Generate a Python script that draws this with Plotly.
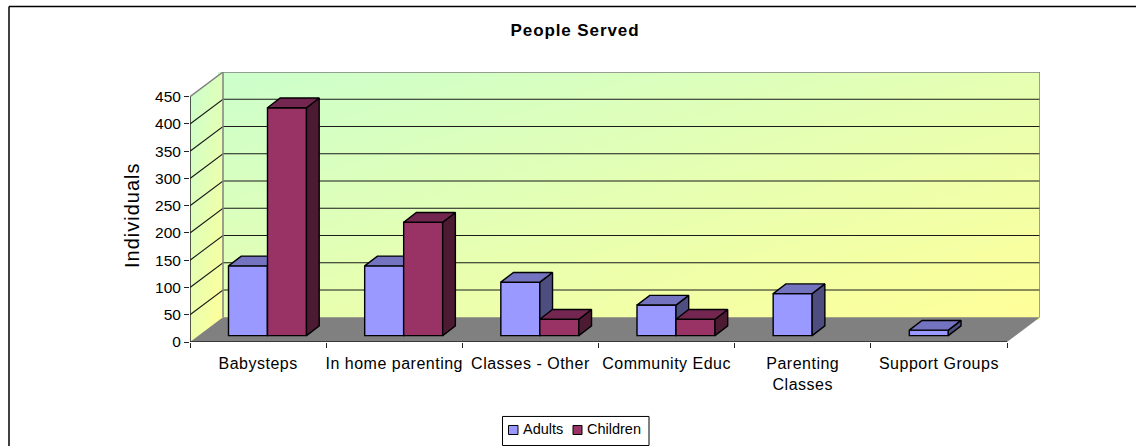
import numpy as np
import plotly.graph_objects as go

# ---------- data ----------
categories = ["Babysteps", "In home parenting", "Classes - Other", "Community Educ", "Parenting<br>Classes", "Support Groups"]
adults = [128, 128, 98, 56, 77, 10]
children = [418, 208, 30, 30, None, None]
y_ticks = [0, 50, 100, 150, 200, 250, 300, 350, 400, 450]

# ---------- pixel geometry of the chart box ----------
W, H = 1136, 446
L, R, T, B = 190.0, 1040.0, 72.3, 341.7
PX_PER_CAT = 817 / 6
PX_PER_VAL = 245.0 / 450
DEPTH_X = 33 / PX_PER_CAT
DEPTH_Y = 24.7 / PX_PER_VAL
XMAX = 6 + DEPTH_X
YMAX = 450 + DEPTH_Y
BAR_W = 39 / PX_PER_CAT
BAR_X0 = 38.5 / PX_PER_CAT
BAR_BASE = 6.4 / PX_PER_VAL
BAR_DX = 12.7 / PX_PER_CAT
BAR_DY = 9.7 / PX_PER_VAL

scale = [[0, "#CCFFCC"], [1, "#FFFF99"]]


def px(x):
    return (x - L) / (R - L)


def py(y):
    return (B - y) / (B - T)


fig = go.Figure()

# back wall gradient
gx = np.linspace(DEPTH_X, XMAX, 80)
gy = np.linspace(DEPTH_Y, YMAX, 40)
u, v = np.meshgrid((gx - gx[0]) / (gx[-1] - gx[0]), 1 - (gy - gy[0]) / (gy[-1] - gy[0]))
fig.add_trace(go.Heatmap(x=gx, y=gy, z=(u + v) / 2, colorscale=scale, zmin=0, zmax=1, zsmooth="best",
                         showscale=False, hoverinfo="skip"))

# side wall gradient, masked to its parallelogram
sx = np.arange(0.5, 33.5, 1) / PX_PER_CAT
sy = np.arange(0.5, B - T, 1) / PX_PER_VAL
su, sv = np.meshgrid(sx / DEPTH_X, sy)
lift = su * DEPTH_Y
sz = 0.35 * su + 0.65 * (1 - (sv - lift) / 450)
sz[(sv < lift - 1.5) | (sv > lift + 450 + 0.5)] = np.nan
fig.add_trace(go.Heatmap(x=sx, y=sy, z=sz, colorscale=scale, zmin=0, zmax=1, showscale=False, hoverinfo="skip"))

# floor
fig.add_trace(go.Scatter(x=[0, 6, XMAX, DEPTH_X, 0], y=[0, 0, DEPTH_Y, DEPTH_Y, 0], mode="lines", fill="toself",
                         fillcolor="#808080", line=dict(width=0), hoverinfo="skip", showlegend=False))

# gridlines on side + back wall
gxs, gys = [], []
for t in y_ticks[1:-1]:
    gxs += [0, DEPTH_X, XMAX, None]
    gys += [t, t + DEPTH_Y, t + DEPTH_Y, None]
fig.add_trace(go.Scatter(x=gxs, y=gys, mode="lines", line=dict(color="#1a1a1a", width=1.1), hoverinfo="skip",
                         showlegend=False))
# wall edges
fig.add_trace(go.Scatter(x=[0, DEPTH_X, XMAX, XMAX, None, DEPTH_X, DEPTH_X],
                         y=[450, YMAX, YMAX, DEPTH_Y, None, YMAX, DEPTH_Y], mode="lines",
                         line=dict(color="#808080", width=1.5), cliponaxis=False, hoverinfo="skip", showlegend=False))
# front axis lines
fig.add_trace(go.Scatter(x=[0, 0, 6], y=[450, 0, 0], mode="lines", line=dict(color="#222222", width=1.5),
                         cliponaxis=False, hoverinfo="skip", showlegend=False))


def add_series(name, vals, start, front, side, top, ax):
    xs = [i + start for i in range(len(vals))]
    xa, ya = "x" + ax, "y" + ax
    fig.add_trace(go.Bar(name=name, x=xs, y=vals, base=BAR_BASE, width=BAR_W, offset=0, xaxis=xa, yaxis=ya,
                         marker=dict(color=front, line=dict(color="#000000", width=1.4)), showlegend=False))
    for x0, val in zip(xs, vals):
        if val is None:
            continue
        x1 = x0 + BAR_W
        y0, y1 = BAR_BASE, BAR_BASE + val
        fig.add_trace(go.Scatter(x=[x1, x1 + BAR_DX, x1 + BAR_DX, x1, x1], y=[y0, y0 + BAR_DY, y1 + BAR_DY, y1, y0],
                                 mode="lines", fill="toself", fillcolor=side, line=dict(color="#000000", width=1.4),
                                 xaxis=xa, yaxis=ya, hoverinfo="skip", showlegend=False))
        fig.add_trace(go.Scatter(x=[x0, x1, x1 + BAR_DX, x0 + BAR_DX, x0], y=[y1, y1, y1 + BAR_DY, y1 + BAR_DY, y1],
                                 mode="lines", fill="toself", fillcolor=top, line=dict(color="#000000", width=1.4),
                                 xaxis=xa, yaxis=ya, hoverinfo="skip", showlegend=False))


ADULT = ("#9999FF", "#4D4D80", "#7373BF")
CHILD = ("#993366", "#4D1A33", "#732650")
add_series("Adults", adults, BAR_X0, *ADULT, "2")
add_series("Children", children, BAR_X0 + BAR_W, *CHILD, "3")

FONT = "Liberation Sans, Arial, sans-serif"


def spaced(s, sp):
    return "<br>".join(f"<span style='letter-spacing:{sp}px'>{p}</span>" for p in s.split("<br>"))


shapes = [
    dict(type="line", xref="paper", yref="paper", x0=px(9), y0=py(446), x1=px(9), y1=py(7),
         line=dict(color="#000000", width=1.5)),
    dict(type="line", xref="paper", yref="paper", x0=px(9), y0=py(7), x1=px(1136), y1=py(7),
         line=dict(color="#000000", width=1.5)),
    dict(type="rect", xref="paper", yref="paper", x0=px(502.5), y0=py(416), x1=px(649), y1=py(445),
         line=dict(color="#000000", width=1), fillcolor="#ffffff"),
    dict(type="rect", xref="paper", yref="paper", x0=px(508.5), y0=py(425), x1=px(518), y1=py(434),
         line=dict(color="#000000", width=1), fillcolor=ADULT[0]),
    dict(type="rect", xref="paper", yref="paper", x0=px(573), y0=py(425), x1=px(582), y1=py(434),
         line=dict(color="#000000", width=1), fillcolor=CHILD[0]),
]
annotations = [
    dict(text="Adults", xref="paper", yref="paper", x=px(520.5), y=py(429), xanchor="left", yanchor="middle",
         showarrow=False, font=dict(family=FONT, size=14.5, color="#000000")),
    dict(text="Children", xref="paper", yref="paper", x=px(584.5), y=py(429), xanchor="left", yanchor="middle",
         showarrow=False, font=dict(family=FONT, size=14.5, color="#000000")),
    dict(text=spaced("Individuals", 1), xref="paper", yref="paper", x=px(131.5), y=py(215.5), xanchor="center",
         yanchor="middle", textangle=-90, showarrow=False, font=dict(family=FONT, size=20, color="#000000")),
]

rng_x, rng_y = [0, XMAX], [0, YMAX]
hidden = dict(visible=False, fixedrange=True)
fig.update_layout(
    width=W, height=H, autosize=False, showlegend=False, barmode="overlay",
    margin=dict(l=L, r=W - R, t=T, b=H - B, pad=0),
    paper_bgcolor="#ffffff", plot_bgcolor="rgba(0,0,0,0)",
    font=dict(family=FONT, size=15, color="#000000"),
    title=dict(text=spaced("<b>People Served</b>", 0.9), x=575 / W, y=1 - 30 / H, xanchor="center", yanchor="middle",
               xref="container", font=dict(family=FONT, size=17, color="#000000")),
    xaxis=dict(range=rng_x, tickmode="array", tickvals=[i + 0.5 for i in range(6)],
               ticktext=[spaced(c, 0.5) for c in categories], ticks="outside", ticklen=7,
               tickcolor="rgba(0,0,0,0)", showgrid=False, zeroline=False, showline=False, tickangle=0,
               minor=dict(tickmode="array", tickvals=list(range(7)), ticks="outside", ticklen=5, tickcolor="#222222",
                          tickwidth=1, showgrid=False),
               tickfont=dict(family=FONT, size=16), fixedrange=True),
    yaxis=dict(range=rng_y, tickmode="array", tickvals=y_ticks, ticks="outside", ticklen=5, tickcolor="#222222",
               tickwidth=1.2, showgrid=False, zeroline=False, showline=False, tickfont=dict(family=FONT, size=15.5),
               fixedrange=True),
    xaxis2=dict(overlaying="x", range=rng_x, **hidden),
    yaxis2=dict(overlaying="y", range=rng_y, **hidden),
    xaxis3=dict(overlaying="x", range=rng_x, **hidden),
    yaxis3=dict(overlaying="y", range=rng_y, **hidden),
    shapes=shapes, annotations=annotations,
)

fig.write_html("out.html", config=dict(displayModeBar=False),
               post_script="document.body.style.margin='0';document.body.style.overflow='hidden';")
